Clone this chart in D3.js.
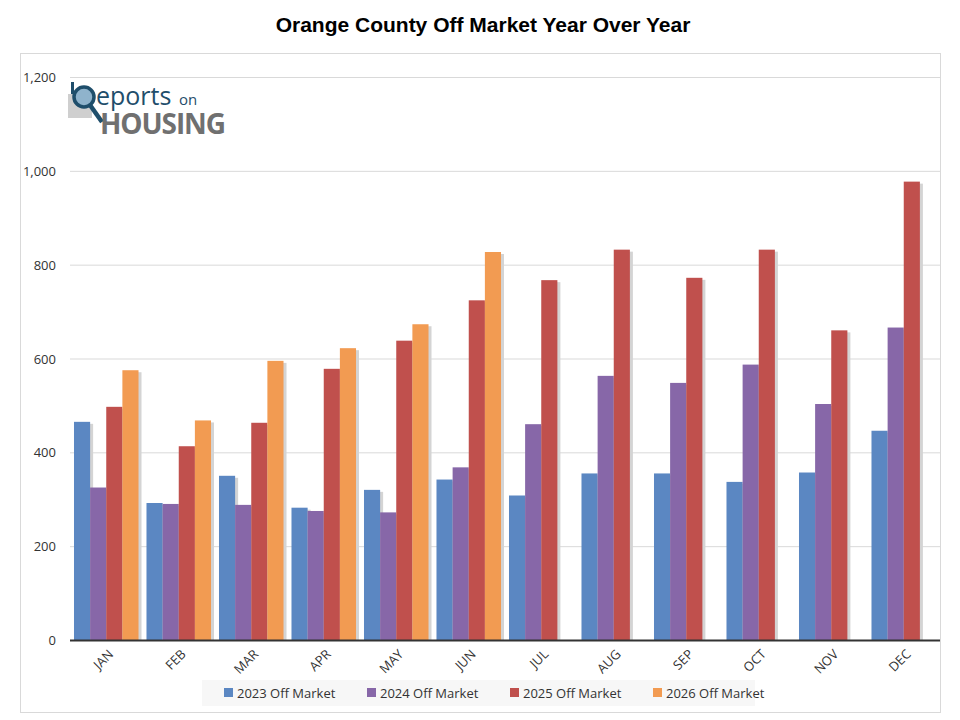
<!DOCTYPE html>
<html><head><meta charset="utf-8">
<script src="https://cdn.jsdelivr.net/npm/d3@7"></script>
<style>body{margin:0;background:#fff;font-family:"Open Sans",Arial,sans-serif}</style>
</head><body><svg id="c" width="960" height="720"></svg>
<script>
const months = ['JAN','FEB','MAR','APR','MAY','JUN','JUL','AUG','SEP','OCT','NOV','DEC'];
const seriesNames = ['2023 Off Market','2024 Off Market','2025 Off Market','2026 Off Market'];
const v2023 = [465,292,350,282,320,342,308,355,355,337,357,446];
const v2024 = [325,290,288,275,272,368,460,563,548,587,503,666];
const v2025 = [497,413,463,578,638,724,767,832,772,832,660,977];
const v2026 = [575,468,595,622,673,827,null,null,null,null,null,null];
const yTicks = [0,200,400,600,800,1000,1200];
const colors = ['#5b87c2','#8767a8','#c0504d','#f29b52'];

const svg = d3.select('#c');
svg.append('text').attr('x',483).attr('y',32).attr('text-anchor','middle')
  .style('font-family','Liberation Sans, Arial').style('font-weight','bold').style('font-size','21px')
  .text('Orange County Off Market Year Over Year');
svg.append('rect').attr('x',20.5).attr('y',53.5).attr('width',920).attr('height',659)
  .attr('fill','none').attr('stroke','#d9d9d9');

const x = d3.scaleBand().domain(months).range([70,940]).paddingInner(0.11).paddingOuter(0.055);
const y = d3.scaleLinear().domain([0,1200]).range([640,77]);
const xs = d3.scaleBand().domain(d3.range(4)).range([0,x.bandwidth()]);

svg.append('g').selectAll('line').data(yTicks.slice(1)).join('line')
  .attr('x1',70).attr('x2',940).attr('y1',d=>y(d)+.5).attr('y2',d=>y(d)+.5).attr('stroke','#d9d9d9');
svg.append('g').selectAll('text').data(yTicks).join('text')
  .attr('x',56).attr('y',d=>y(d)+5).attr('text-anchor','end').style('font-size','13px').attr('fill','#333')
  .text(d3.format(','));

// logo
const lg = svg.append('g').attr('transform','translate(68,80)');
lg.append('rect').attr('x',0).attr('y',14).attr('width',24).attr('height',24).attr('fill','#cfcfcf');
lg.append('rect').attr('x',3).attr('y',2).attr('width',3).attr('height',12).attr('fill','#1f4e6b');
lg.append('circle').attr('cx',16).attr('cy',17).attr('r',10).attr('fill','#8fb3cc').attr('stroke','#1f4e6b').attr('stroke-width',3.5);
lg.append('line').attr('x1',22).attr('y1',25).attr('x2',34).attr('y2',42).attr('stroke','#1f4e6b').attr('stroke-width',4.5);
lg.append('text').attr('x',28).attr('y',25).style('font-size','25px').attr('fill','#1f4e6b').text('eports');
lg.append('text').attr('x',111).attr('y',25).style('font-size','15px').attr('fill','#1f4e6b').text('on');
lg.append('text').attr('x',32).attr('y',54).style('font-size','28px').style('font-weight','bold')
  .attr('textLength',126).attr('fill','#707070').text('HOUSING');

const data = months.map((m,i)=>[v2023[i],v2024[i],v2025[i],v2026[i]]);
const groups = svg.append('g').selectAll('g').data(data).join('g')
  .attr('transform',(d,i)=>`translate(${x(months[i])},0)`);
groups.selectAll('rect.sh').data(d=>d.map((v,k)=>({v,k})).filter(o=>o.v!=null)).join('rect')
  .attr('x',o=>xs(o.k)+3).attr('y',o=>y(o.v)+2).attr('width',xs.bandwidth()).attr('height',o=>640-y(o.v)-2)
  .attr('fill','#d4d4d4');
groups.selectAll('rect.b').data(d=>d.map((v,k)=>({v,k})).filter(o=>o.v!=null)).join('rect')
  .attr('x',o=>xs(o.k)).attr('y',o=>y(o.v)).attr('width',xs.bandwidth()).attr('height',o=>640-y(o.v))
  .attr('fill',o=>colors[o.k]);

svg.append('line').attr('x1',70).attr('x2',940).attr('y1',640.5).attr('y2',640.5).attr('stroke','#333').attr('stroke-width',2);
svg.append('g').selectAll('text').data(months).join('text')
  .attr('transform',m=>`translate(${x(m)+x.bandwidth()/2+8},${655}) rotate(-45)`)
  .attr('text-anchor','end').style('font-size','13px').attr('fill','#333').text(m=>m);

// legend
svg.append('rect').attr('x',202).attr('y',680).attr('width',553).attr('height',26).attr('fill','#f7f7f7');
const lw = [0,143,286,429];
const leg = svg.append('g').selectAll('g').data(seriesNames).join('g')
  .attr('transform',(d,i)=>`translate(${224+lw[i]},693)`);
leg.append('rect').attr('x',0).attr('y',-5).attr('width',9).attr('height',9).attr('fill',(d,i)=>colors[i]);
leg.append('text').attr('x',13).attr('y',5).style('font-size','13px').attr('fill','#333').text(d=>d);
</script></body></html>
